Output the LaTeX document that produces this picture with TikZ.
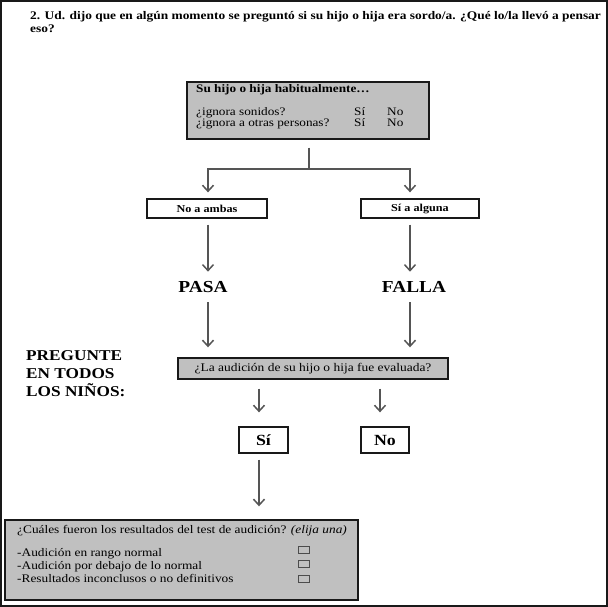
\documentclass[tikz,border=0pt]{standalone}
\usepackage{fontspec}
\setmainfont{Liberation Serif}[FakeStretch=1.15]
\usetikzlibrary{arrows.meta}
\definecolor{boxgray}{RGB}{192,192,192}
\definecolor{framecol}{RGB}{25,25,25}
\definecolor{arrowcol}{RGB}{85,85,85}
\newcommand{\myfs}[1]{\fontsize{#1}{#1}\selectfont}
\begin{document}
\begin{tikzpicture}[x=1pt,y=-1pt,
  >={Straight Barb[length=6pt,width=11pt]},
  graybox/.style={draw=framecol,line width=1.4pt,fill=boxgray,inner sep=0pt},
  whitebox/.style={draw=framecol,line width=1.3pt,fill=white,inner sep=0pt},
  txt/.style={inner sep=0pt,anchor=base west},
  ctxt/.style={inner sep=0pt,anchor=base},
  conn/.style={draw=arrowcol,line width=1.5pt},
  chk/.style={draw=black!70,line width=0.8pt,fill=boxgray,minimum width=11pt,minimum height=7pt,inner sep=0pt}]
\useasboundingbox (0,0) rectangle (608,607);
\draw[framecol,line width=2pt] (1,1) rectangle (606.5,605.5);

% title
\node[txt,font=\bfseries\myfs{11.65}] (t1) at (30,20) {2. Ud. dijo que en algún momento se preguntó si su hijo o hija era sordo/a. ¿Qué lo/la llevó a pensar};
\node[txt,font=\bfseries\myfs{11.65}] (t2) at (30,33) {eso?};

% first question box
\node[graybox,minimum width=242pt,minimum height=57pt] (q1) at (308,110.5) {};
\node[txt,font=\bfseries\myfs{11.5}] (q1h) at (196,93) {Su hijo o hija habitualmente\ldots};
\node[txt,font=\myfs{11.5}] (q1a) at (196,116) {¿ignora sonidos?};
\node[txt,font=\myfs{11.5}] (q1as) at (354,116) {Sí};
\node[txt,font=\myfs{11.5}] (q1an) at (387,116) {No};
\node[txt,font=\myfs{11.5}] (q1b) at (196,127) {¿ignora a otras personas?};
\node[txt,font=\myfs{11.5}] (q1bs) at (354,127) {Sí};
\node[txt,font=\myfs{11.5}] (q1bn) at (387,127) {No};

% answer boxes
\node[whitebox,minimum width=120pt,minimum height=19pt,font=\bfseries\myfs{10.6}] (noamb) at (207,208.5) {No a ambas};
\node[whitebox,minimum width=118pt,minimum height=19pt,font=\bfseries\myfs{10.6}] (siag) at (420,208.5) {Sí a alguna};

\coordinate (split) at (309,169);
\coordinate (Lt) at (208,169);
\coordinate (Rt) at (410,169);
\draw[conn,shorten <=8pt] (q1.south -| split) -- (split);
\draw[conn,<->,shorten <=6pt,shorten >=6pt] (Lt |- noamb.north) -- (Lt) -- (Rt) -- (Rt |- siag.north);

% PASA / FALLA
\node[ctxt,font=\bfseries\myfs{16.8}] (pasa) at (203,292) {PASA};
\node[ctxt,font=\bfseries\myfs{16.8}] (falla) at (414,292) {FALLA};
\draw[conn,->,shorten <=6pt,shorten >=9pt] (noamb.south -| Lt) -- (pasa.north -| Lt);
\draw[conn,->,shorten <=6pt,shorten >=9pt] (siag.south -| Rt) -- (falla.north -| Rt);

% PREGUNTE
\node[inner sep=0pt,anchor=north west,align=left,font=\bfseries\fontsize{15}{18}\selectfont] (preg) at (26,350) {PREGUNTE\\EN TODOS\\LOS NIÑOS:};

% evaluated box
\node[graybox,minimum width=270pt,minimum height=21pt,font=\myfs{11.7}] (eval) at (313,368.5) {¿La audición de su hijo o hija fue evaluada?};
\draw[conn,->,shorten <=10pt,shorten >=10pt] (pasa.south -| Lt) -- (eval.north -| Lt);
\draw[conn,->,shorten <=10pt,shorten >=10pt] (falla.south -| Rt) -- (eval.north -| Rt);

% Si / No
\node[whitebox,minimum width=49pt,minimum height=26pt,font=\bfseries\myfs{15.5}] (sibox) at (263.5,440) {Sí};
\node[whitebox,minimum width=48pt,minimum height=26pt,font=\bfseries\myfs{15.5}] (nobox) at (385,440) {No};
\coordinate (Ce) at (259,0);
\coordinate (De) at (380,0);
\draw[conn,->,shorten <=9pt,shorten >=14pt] (eval.south -| Ce) -- (sibox.north -| Ce);
\draw[conn,->,shorten <=9pt,shorten >=14pt] (eval.south -| De) -- (nobox.north -| De);

% results box
\node[graybox,minimum width=353pt,minimum height=80pt] (res) at (181.5,560) {};
\draw[conn,->,shorten <=6pt,shorten >=13pt] (sibox.south -| Ce) -- (res.north -| Ce);
\node[txt,font=\myfs{11.6}] (rq) at (17,533) {¿Cuáles fueron los resultados del test de audición? \textit{(elija una)}};
\node[txt,font=\myfs{11.6}] (r1) at (17,556) {-Audición en rango normal};
\node[txt,font=\myfs{11.6}] (r2) at (17,569) {-Audición por debajo de lo normal};
\node[txt,font=\myfs{11.6}] (r3) at (17,582) {-Resultados inconclusos o no definitivos};
\node[chk] (c1) at (304,550) {};
\node[chk] (c2) at (304,564) {};
\node[chk] (c3) at (304,579) {};
\end{tikzpicture}
\end{document}
